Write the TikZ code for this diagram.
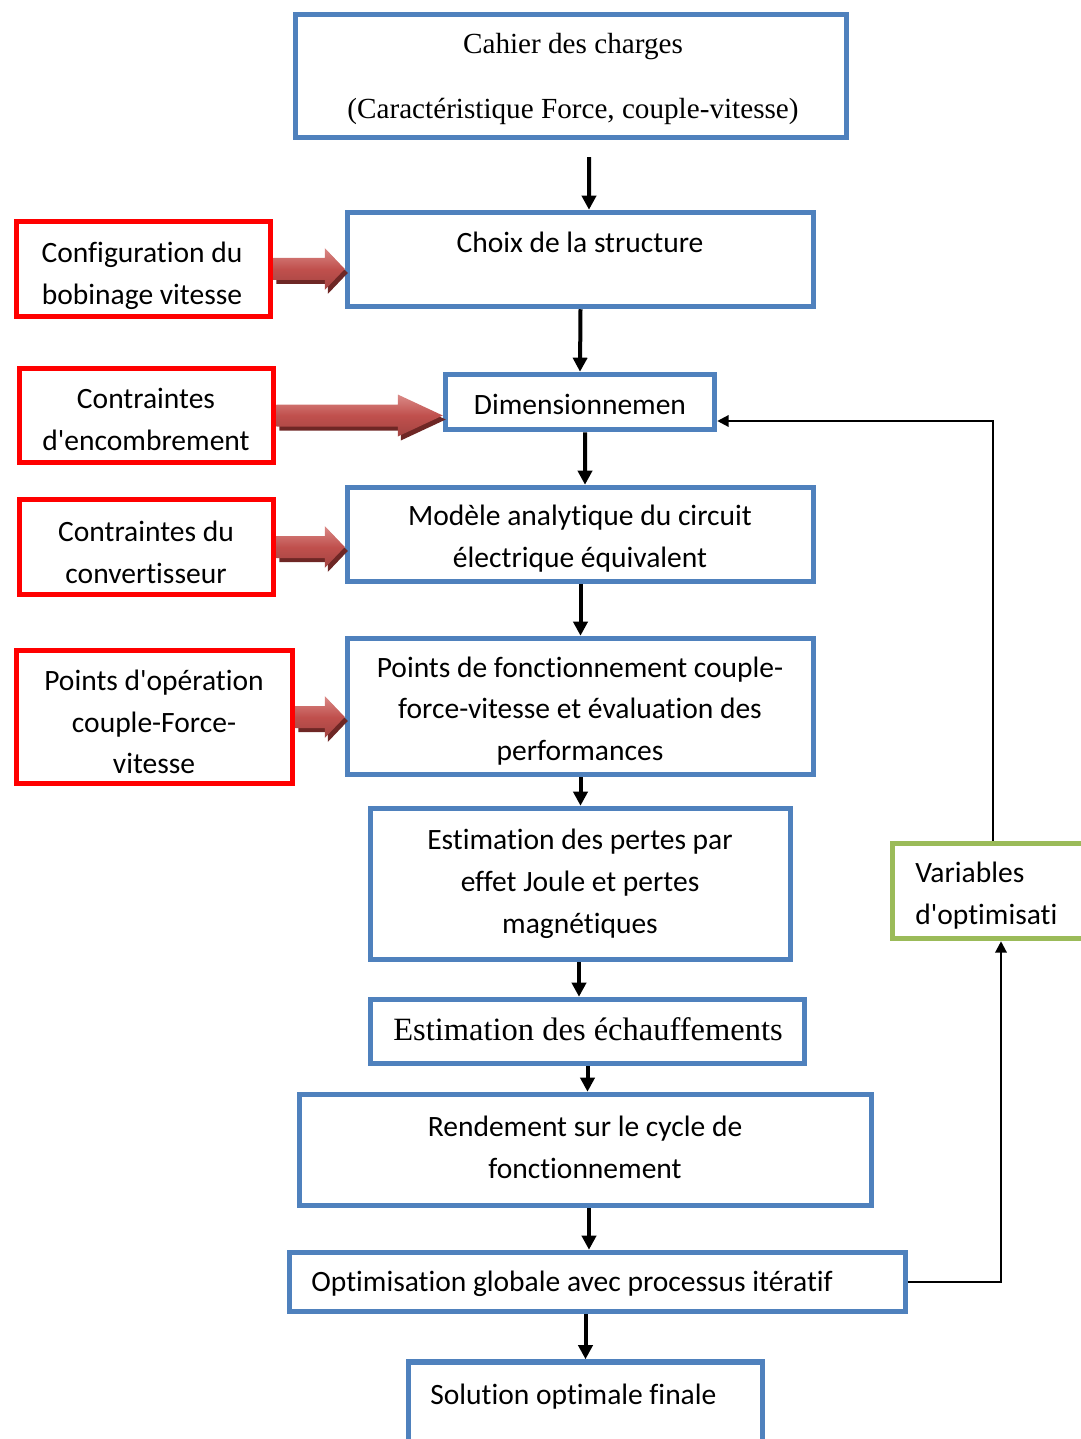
\documentclass[tikz,border=0pt]{standalone}
\usepackage{fontspec}
\setmainfont{Liberation Serif}
\newfontfamily\calibri[Ligatures=NoCommon]{Carlito}
\usepackage{xcolor}
\usetikzlibrary{arrows.meta, positioning}
\usetikzlibrary{calc}

\definecolor{boxblue}{HTML}{4F81BD}
\definecolor{boxred}{HTML}{FF0000}
\definecolor{boxgreen}{HTML}{9BBB59}
\definecolor{arrowred}{HTML}{C0504D}
\definecolor{arrowlight}{HTML}{DA8A87}
\definecolor{arrowdark}{HTML}{6E2725}

\newlength{\px}
\setlength{\px}{0.02cm}

% block arrow from #1 to tip #2, head length #3
\newcommand{\blockarrow}[3]{%
  \fill[arrowdark, transform canvas={xshift=3\px, yshift=-4\px}]
    ($(#1)+(0,-11)$) -- ($(#2)+(-#3,-11)$) -- ($(#2)+(-#3,-21)$) -- (#2)
    -- ($(#2)+(-#3,21)$) -- ($(#2)+(-#3,11)$) -- ($(#1)+(0,11)$) -- cycle;
  \shade[top color=arrowlight, bottom color=arrowred!85!black, middle color=arrowred]
    ($(#1)+(0,-11)$) -- ($(#2)+(-#3,-11)$) -- ($(#2)+(-#3,-21)$) -- (#2)
    -- ($(#2)+(-#3,21)$) -- ($(#2)+(-#3,11)$) -- ($(#1)+(0,11)$) -- cycle;}

\begin{document}
\begin{tikzpicture}[x=0.02cm, y=-0.02cm,
    bluebox/.style={draw=boxblue, line width=5.5\px},
    redbox/.style={draw=boxred, line width=5.5\px},
    greenbox/.style={draw=boxgreen, line width=5.5\px},
    txt/.style={font=\calibri\fontsize{16.8}{23.8}\selectfont, align=center, inner sep=0pt},
    serif/.style={font=\fontsize{16.6}{37.5}\selectfont, align=center, inner sep=0pt},
    flow/.style={-{Triangle[length=8pt, width=8pt]}, line width=4\px},
    loopline/.style={-{Triangle[length=6.5pt, width=6.5pt]}, line width=2.2\px}]
    \useasboundingbox (0,0) rectangle (1080,1439);

    % main chain of boxes
    \node[bluebox, minimum width=551\px, minimum height=123\px] (cahier) at (571,76) {};
    \node[bluebox, minimum width=466\px, minimum height=94\px] (choix) at (580.5,259.5) {};
    \node[bluebox, minimum width=269\px, minimum height=55\px] (dim) at (580,402) {};
    \node[bluebox, minimum width=466\px, minimum height=94\px] (modele) at (580.5,534.5) {};
    \node[bluebox, minimum width=466\px, minimum height=136\px] (points) at (580.5,706.5) {};
    \node[bluebox, minimum width=420\px, minimum height=151\px] (pertes) at (580.5,884) {};
    \node[bluebox, minimum width=434\px, minimum height=64\px] (echauff) at (587.5,1031.5) {};
    \node[bluebox, minimum width=572\px, minimum height=111\px] (rendement) at (585.5,1150) {};
    \node[bluebox, minimum width=616\px, minimum height=59\px] (optim) at (597.5,1282) {};
    \node[bluebox, minimum width=354\px, minimum height=150\px] (solution) at (585.5,1437) {};

    % texts of the chain
    \node[serif] (cahier-t) at (573,79) {Cahier des charges\\(Caractéristique Force, couple-vitesse)};
    \node[txt] (choix-t) at (580,242) {Choix de la structure};
    \node[txt] (dim-t) at (580,404) {Dimensionnemen};
    \node[txt] (modele-t) at (580,539) {Modèle analytique du circuit\\électrique équivalent};
    \node[txt] (points-t) at (580,711) {Points de fonctionnement couple-\\force-vitesse et évaluation des\\performances};
    \node[txt] (pertes-t) at (580,884) {Estimation des pertes par\\effet Joule et pertes\\magnétiques};
    \node[serif, font=\fontsize{18.5}{22}\selectfont] (echauff-t) at (588,1029) {Estimation des échauffements};
    \node[txt] (rendement-t) at (585,1147) {Rendement sur le cycle de\\fonctionnement};
    \node[txt, anchor=west] (optim-t) at (311,1284) {Optimisation globale avec processus itératif};
    \node[txt, anchor=west] (solution-t) at (430,1397) {Solution optimale finale};

    % constraint boxes on the left
    \node[redbox, minimum width=254\px, minimum height=95\px] (r1) at (143.5,269) {};
    \node[redbox, minimum width=254\px, minimum height=94\px] (r2) at (146.5,415.5) {};
    \node[redbox, minimum width=254\px, minimum height=95\px] (r3) at (146.5,547) {};
    \node[redbox, minimum width=276\px, minimum height=133\px] (r4) at (154.5,717) {};
    \node[txt] (r1-t) at (142,275.5) {Configuration du\\bobinage vitesse};
    \node[txt] (r2-t) at (146,419.5) {Contraintes\\d'encombrement};
    \node[txt] (r3-t) at (146,552.5) {Contraintes du\\convertisseur};
    \node[txt] (r4-t) at (154,722) {Points d'opération\\couple-Force-\\vitesse};

    % optimisation variables
    \node[greenbox, minimum width=285\px, minimum height=95\px] (variables) at (1035,891) {};
    \node[txt, align=left, anchor=west] (variables-t) at (915,896) {Variables\\d'optimisati};

    % red block arrows
    \blockarrow{r1.east}{choix.west |- r1.east}{20}
    \blockarrow{r2.east}{dim.west |- r2.east}{45}
    \blockarrow{r3.east}{modele.west |- r3.east}{20}
    \blockarrow{r4.east}{points.west |- r4.east}{20}

    % flow arrows
    \draw[flow] ([xshift=18\px, yshift=-17\px]cahier.south) -- ([xshift=8.5\px]choix.north);
    \draw[flow] (choix.south) -- (dim.north);
    \draw[flow] ([xshift=5\px]dim.south) -- ([xshift=4.5\px]modele.north);
    \draw[flow] (modele.south) -- (points.north);
    \draw[flow] (points.south) -- (pertes.north);
    \draw[flow] ([xshift=-1.5\px]pertes.south) -- ([xshift=-8.5\px]echauff.north);
    \draw[flow] (echauff.south) -- (echauff.south |- rendement.north);
    \draw[flow] ([xshift=3.5\px]rendement.south) -- ([xshift=3.5\px]rendement.south |- optim.north);
    \draw[flow] (solution.north |- optim.south) -- (solution.north);

    % iteration loop
    \draw[loopline] (optim.east) -| ([xshift=-34\px]variables.south);
    \draw[loopline] ([xshift=-42\px]variables.north) |- ([yshift=-19\px]dim.east);
\end{tikzpicture}
\end{document}
